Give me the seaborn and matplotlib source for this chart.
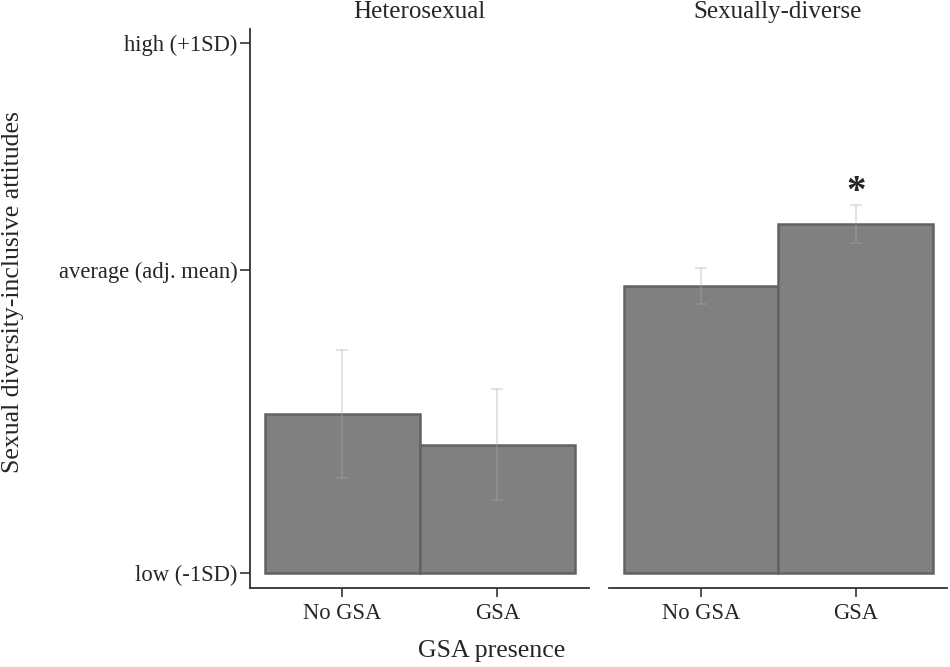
import seaborn as sns
import matplotlib.pyplot as plt
import pandas as pd

# adjusted means, in units where low (-1SD) = -1 and average = 0
panels = ['Heterosexual', 'Sexually-diverse']
gsa_levels = ['No GSA', 'GSA']
het_means = [-0.475, -0.577]
het_err = [0.211, 0.184]
div_means = [-0.053, 0.151]
div_err = [0.059, 0.063]

ytick_vals = [-1.0, 0.0, 0.749]
ytick_labels = ['low (-1SD)', 'average (adj. mean)', 'high (+1SD)']
baseline = -1.0

sns.set_style('white')
plt.rcParams['font.family'] = ['Liberation Serif', 'DejaVu Serif']

fig = plt.figure(figsize=(9.5, 6.67), dpi=100)
ax_l = fig.add_axes([250 / 950, 79 / 667, 339 / 950, 559 / 667])
ax_r = fig.add_axes([609 / 950, 79 / 667, 338 / 950, 559 / 667], sharey=ax_l)

data = [(het_means, het_err), (div_means, div_err)]
for ax, title, (means, errs) in zip([ax_l, ax_r], panels, data):
    df = pd.DataFrame({'gsa': gsa_levels,
                       'height': [m - baseline for m in means]})
    sns.barplot(data=df, x='gsa', y='height', order=gsa_levels, ax=ax,
                color='#808080', saturation=1, width=1, bottom=baseline,
                edgecolor='#626262', linewidth=1.8, errorbar=None)
    ax.errorbar(range(len(means)), means, yerr=errs, fmt='none',
                ecolor='#a8a8a8', alpha=0.35, elinewidth=1.3,
                capsize=4.5, capthick=1.3)
    ax.set_title(title, fontsize=18, pad=8)
    ax.set_xlim(-0.595, 1.59)
    ax.set_xlabel('')
    ax.set_ylabel('')
    ax.tick_params(axis='x', length=6.5, width=1.2, color='#333333',
                   labelsize=16.3, pad=4, bottom=True)
    for s in ['top', 'right']:
        ax.spines[s].set_visible(False)
    ax.spines['bottom'].set_color('#333333')
    ax.spines['bottom'].set_linewidth(1.3)

ax_l.set_ylim(-1.05, 0.795)
ax_l.set_yticks(ytick_vals)
ax_l.set_yticklabels(ytick_labels)
ax_l.tick_params(axis='y', length=7, width=1.2, color='#333333',
                 labelsize=16.3, pad=2, left=True)
ax_l.spines['left'].set_color('#333333')
ax_l.spines['left'].set_linewidth(1.3)

ax_r.spines['left'].set_visible(False)
ax_r.tick_params(axis='y', left=False, labelleft=False)

# significance marker
ax_r.text(1, 0.255, '*', ha='center', va='center', fontsize=28,
          fontweight='bold')

fig.text(492 / 950, 16 / 667, 'GSA presence', ha='center', va='center',
         fontsize=18.6)
fig.text(13 / 950, (667 - 292) / 667, 'Sexual diversity-inclusive attitudes',
         ha='center', va='center', rotation=90, fontsize=18.5)

plt.savefig('out.png', dpi=100)
